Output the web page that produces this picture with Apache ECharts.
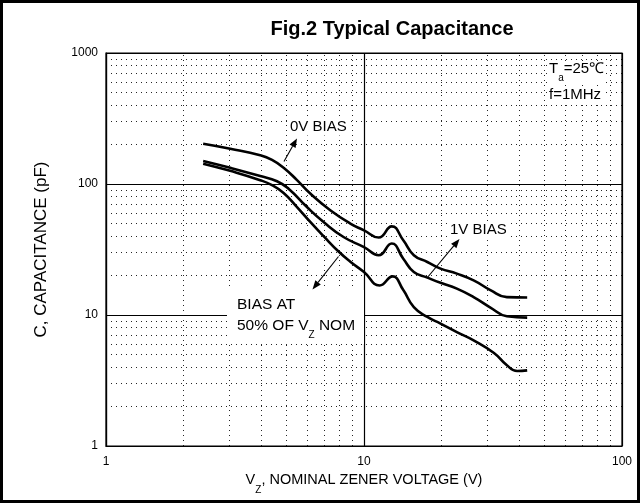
<!DOCTYPE html>
<html><head><meta charset="utf-8">
<script src="https://cdn.jsdelivr.net/npm/echarts/dist/echarts.min.js"></script>
<style>html,body{margin:0;padding:0;background:#fff}#c{width:641px;height:504px}</style>
</head><body><div id="c"></div>
<script>
// 0V bias curve
const x0V = [2.38, 3.03, 3.96, 4.4, 4.88, 5.5, 6.19, 7.4, 8.85, 10, 11.4, 12.8, 14.2, 15.6, 17.6, 19.8, 22.9, 26.6, 30.9, 35.8, 42.9];
const y0V = [203, 186, 166, 153, 133, 107, 84.5, 63, 49.9, 44.3, 39, 47.5, 37.2, 28.6, 25.4, 22.6, 20.7, 18.4, 15.5, 13.7, 13.6];
// 1V bias curve
const x1V = [2.38, 3.03, 3.96, 4.6, 5.1, 6.01, 6.97, 8.33, 10, 11.4, 12.8, 14.2, 15.6, 17.6, 19.8, 22.9, 26.6, 30.9, 35.8, 42.9];
const y1V = [150, 133, 115, 105, 92, 66.7, 51.3, 39.4, 33, 28.6, 35.1, 26.9, 21.3, 19.3, 17.6, 15.9, 13.7, 11.4, 9.78, 9.55];
// bias at 50% of Vz nom
const x50 = [2.38, 3.03, 3.96, 4.4, 4.88, 5.5, 6.19, 6.97, 7.97, 8.85, 10, 11.5, 12.9, 14.2, 15.6, 17.6, 19.8, 22.9, 26.6, 31.9, 35.8, 39.2, 42.9];
const y50 = [143, 126, 107, 98, 85.5, 66.7, 51.3, 40, 30.5, 25.5, 21.3, 16.8, 19.7, 15.5, 11.5, 9.66, 8.6, 7.41, 6.41, 5.13, 4.13, 3.74, 3.78];
// minor grid values
const xMinor = [2, 3, 4, 5, 6, 7, 8, 9, 20, 30, 40, 50, 60, 70, 80, 90];
const yMinor = [2, 3, 4, 5, 6, 7, 8, 9, 20, 30, 40, 50, 60, 70, 80, 90, 200, 300, 400, 500, 600, 700, 800, 900];

const FONT = "'Liberation Sans', Arial, Helvetica, sans-serif";
const pairs = (xs, ys) => xs.map((x, i) => [x, ys[i]]);
const chart = echarts.init(document.getElementById('c'), null, {renderer: 'canvas'});

const curveStyle = {color: '#000', width: 2.6};
chart.setOption({
  animation: false,
  backgroundColor: '#fff',
  textStyle: {fontFamily: FONT},
  grid: {left: 106, right: 19, top: 53, bottom: 58, show: true, borderColor: '#000', borderWidth: 1.2, backgroundColor: 'transparent'},
  xAxis: {
    type: 'log', logBase: 10, min: 1, max: 100,
    name: '{n|V}{s|Z}{n|, NOMINAL ZENER VOLTAGE (V)}',
    nameLocation: 'middle', nameGap: 25,
    nameTextStyle: {rich: {
      n: {fontSize: 14.5, fontFamily: FONT, color: '#000', lineHeight: 22, verticalAlign: 'top'},
      s: {fontSize: 10, fontFamily: FONT, color: '#000', lineHeight: 10, padding: [12, 0, 0, 0], verticalAlign: 'top'}
    }},
    axisLine: {show: true, lineStyle: {color: '#000', width: 1.2}},
    axisTick: {show: false},
    axisLabel: {fontSize: 12, color: '#000', fontFamily: FONT, margin: 10, formatter: v => String(Math.round(v))},
    splitLine: {show: true, lineStyle: {color: '#000', width: 1.2, type: 'solid'}},
    minorTick: {show: false}, minorSplitLine: {show: false}
  },
  yAxis: {
    type: 'log', logBase: 10, min: 1, max: 1000,
    name: 'C, CAPACITANCE (pF)', nameLocation: 'middle', nameGap: 56,
    nameTextStyle: {fontSize: 17, color: '#000', fontFamily: FONT},
    axisLine: {show: true, lineStyle: {color: '#000', width: 1.2}},
    axisTick: {show: false},
    axisLabel: {fontSize: 12, color: '#000', fontFamily: FONT, margin: 8, formatter: v => String(Math.round(v))},
    splitLine: {show: true, lineStyle: {color: '#000', width: 1.2, type: 'solid'}}
  },
  series: [
    {
      type: 'line', name: 'minor grid', data: [[1, 1]], symbol: 'none', silent: true, z: 1,
      lineStyle: {opacity: 0},
      markLine: {
        silent: true, symbol: ['none', 'none'], label: {show: false}, animation: false,
        lineStyle: {color: '#000', width: 1, type: [1, 4], opacity: 0.85},
        emphasis: {disabled: true},
        data: xMinor.map(v => ({xAxis: v})).concat(yMinor.map(v => ({yAxis: v})))
      }
    },
    {type: 'line', name: '0V BIAS', data: pairs(x0V, y0V), smooth: 0.5, symbol: 'none', lineStyle: curveStyle, z: 5},
    {type: 'line', name: '1V BIAS', data: pairs(x1V, y1V), smooth: 0.5, symbol: 'none', lineStyle: curveStyle, z: 5},
    {type: 'line', name: 'BIAS AT 50% OF VZ NOM', data: pairs(x50, y50), smooth: 0.5, symbol: 'none', lineStyle: curveStyle, z: 5}
  ]
});

function arrow(x1, y1, x2, y2) {
  const dx = x2 - x1, dy = y2 - y1, L = Math.hypot(dx, dy);
  const ux = dx / L, uy = dy / L, hl = 9, hw = 3.5;
  const bx = x2 - ux * hl, by = y2 - uy * hl;
  return [
    {type: 'line', z: 60, silent: true, shape: {x1: x1, y1: y1, x2: bx, y2: by}, style: {stroke: '#000', lineWidth: 1.1}},
    {type: 'polygon', z: 60, silent: true, shape: {points: [[x2, y2], [bx - uy * hw, by + ux * hw], [bx + uy * hw, by - ux * hw]]}, style: {fill: '#000'}}
  ];
}
function label(text, x, y, size, extra) {
  return Object.assign({
    type: 'text', z: 55, silent: true,
    style: Object.assign({
      text: text, x: x, y: y, fill: '#000', font: size + 'px ' + FONT,
      align: 'left', verticalAlign: 'middle', textAlign: 'left', textVerticalAlign: 'middle',
      backgroundColor: '#fff', padding: [1, 2, 1, 2]
    }, extra || {})
  });
}
const subRich = (size) => ({
  n: {fontSize: size, fontFamily: FONT, fill: '#000', color: '#000', lineHeight: 22, verticalAlign: 'top'},
  s: {fontSize: 10, fontFamily: FONT, fill: '#000', color: '#000', lineHeight: 10, padding: [12, 0, 0, 0], verticalAlign: 'top'}
});

const g = [];
// outer frame
g.push({type: 'rect', z: 70, silent: true, shape: {x: 1.5, y: 1.5, width: 637, height: 500}, style: {fill: 'none', stroke: '#000', lineWidth: 3}});
// title
g.push({type: 'text', z: 55, silent: true, style: {text: 'Fig.2 Typical Capacitance', x: 392, y: 29, fill: '#000', font: 'bold 20px ' + FONT, align: 'center', verticalAlign: 'middle', textAlign: 'center', textVerticalAlign: 'middle'}});
// conditions
g.push(label('{n|T}{s|a}{n|=25\u2103}', 548, 72, 15, {rich: subRich(15), padding: [0, 1, 0, 1]}));
g.push(label('f=1MHz', 548, 95, 15, {padding: [1, 1, 1, 1]}));
// curve labels
g.push(label('0V BIAS', 288, 127, 15));
g.push(label('1V BIAS', 448, 230, 15));
// BIAS AT box
g.push({type: 'rect', z: 50, silent: true, shape: {x: 227, y: 290, width: 137, height: 54}, style: {fill: '#fff'}});
g.push(label('BIAS AT', 235, 305, 15.5, {backgroundColor: 'transparent'}));
g.push(label('{n|50% OF V}{s|Z}{n| NOM}', 235, 329, 15.5, {rich: subRich(15.5), backgroundColor: 'transparent'}));
// arrows
g.push(...arrow(284, 161.5, 297, 138.5));
g.push(...arrow(427, 278, 459.5, 239));
g.push(...arrow(338.5, 256.5, 312.5, 289.5));
chart.setOption({graphic: g});
</script></body></html>
